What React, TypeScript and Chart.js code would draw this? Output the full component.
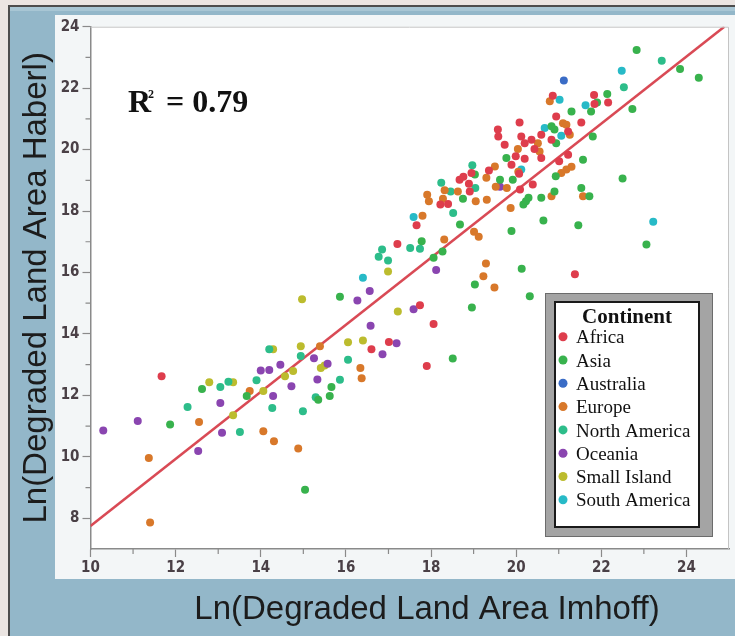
import { useEffect, useRef } from "react";
import { Chart, registerables } from "chart.js";

Chart.register(...registerables);

type Pt = [number, number];

// ---------- data ----------
const continentNames = [
  "Africa",
  "Asia",
  "Australia",
  "Europe",
  "North America",
  "Oceania",
  "Small Island",
  "South America",
];

const continentColors = [
  "#de3d4c",
  "#38b24d",
  "#3a6cc6",
  "#d8782a",
  "#2dbd8a",
  "#8a45b0",
  "#bcbc2e",
  "#27bac7",
];

const africaPoints: Pt[] = [
  [11.67, 12.62], [16.6, 13.5], [17.01, 13.74], [17.21, 16.93], [17.74, 14.93], [18.06, 14.32],
  [17.9, 12.96], [17.66, 17.54], [18.67, 19.02], [18.76, 19.12], [18.89, 18.89], [18.91, 18.64],
  [18.95, 19.24], [18.22, 18.21], [18.4, 18.23], [19.36, 19.32], [19.57, 20.65], [19.58, 20.43],
  [19.73, 20.16], [20.08, 20.88], [20.12, 20.43], [20.36, 20.32], [20.2, 20.21], [20.43, 20.02],
  [20.59, 20.48], [20.83, 20.32], [20.59, 19.73], [20.2, 19.7], [19.89, 19.51], [19.99, 19.78],
  [21.22, 19.83], [21.01, 19.62], [20.07, 19.21], [20.39, 18.86], [20.09, 18.7], [20.94, 21.08],
  [21.53, 20.88], [21.22, 20.59], [20.86, 21.75], [21.83, 21.78], [22.16, 21.53], [21.84, 21.48],
  [21.38, 15.94],
];

const asiaPoints: Pt[] = [
  [11.87, 11.05], [12.62, 12.21], [13.67, 11.98], [15.04, 8.93], [15.35, 11.86], [15.66, 12.27],
  [15.62, 11.98], [15.86, 15.21], [17.78, 17.02], [18.06, 16.48], [18.27, 16.68], [18.51, 13.2],
  [18.68, 17.56], [18.75, 18.4], [18.96, 14.86], [19.03, 15.61], [19.03, 19.19], [19.62, 19.02],
  [19.77, 19.73], [19.92, 19.02], [19.89, 17.35], [20.13, 16.12], [20.32, 15.23], [20.17, 18.21],
  [20.23, 18.32], [20.29, 18.43], [20.59, 18.43], [20.64, 17.69], [20.9, 18.64], [20.93, 19.13],
  [20.94, 20.21], [20.83, 20.76], [20.9, 20.65], [21.3, 21.24], [21.76, 21.24], [21.9, 21.53],
  [22.14, 21.81], [21.8, 20.43], [21.57, 19.67], [21.53, 18.75], [21.72, 18.48], [21.46, 17.54],
  [22.5, 19.06], [22.73, 21.32], [22.83, 23.24], [23.85, 22.62], [24.29, 22.34], [23.06, 16.91],
];

const australiaPoints: Pt[] = [[21.12, 22.25]];

const europePoints: Pt[] = [
  [11.37, 9.96], [11.4, 7.86], [12.55, 11.13], [13.74, 12.14], [14.06, 10.83], [14.31, 10.51],
  [14.88, 10.27], [15.39, 13.6], [16.34, 12.89], [16.37, 12.56], [17.8, 17.85], [17.91, 18.53],
  [17.95, 18.32], [18.28, 18.4], [18.32, 18.68], [18.63, 18.64], [19.05, 18.32], [19.31, 18.37],
  [19.3, 19.08], [19.5, 19.45], [19.52, 18.79], [19.78, 18.75], [19.87, 18.1], [18.31, 17.07],
  [19.01, 17.33], [19.12, 17.16], [19.29, 16.29], [19.23, 15.88], [19.49, 15.51], [20.04, 20.02],
  [20.51, 20.21], [20.55, 19.94], [20.05, 19.28], [20.79, 21.57], [21.1, 20.86], [21.18, 20.81],
  [21.26, 20.48], [21.3, 19.44], [21.18, 19.35], [21.06, 19.24], [20.83, 18.48], [21.57, 18.48],
];

const northAmericaPoints: Pt[] = [
  [12.28, 11.62], [13.05, 12.27], [13.24, 12.44], [13.51, 10.81], [13.9, 12.49], [14.2, 13.5],
  [14.27, 11.59], [14.94, 13.28], [14.99, 11.48], [15.29, 11.94], [15.86, 12.51], [16.05, 13.16],
  [16.85, 16.75], [16.77, 16.51], [16.99, 16.39], [17.51, 16.8], [17.74, 16.77], [18.24, 18.92],
  [18.46, 18.64], [18.52, 17.94], [18.97, 19.49], [19.04, 18.75], [22.53, 22.03], [23.42, 22.89],
];

const oceaniaPoints: Pt[] = [
  [10.3, 10.86], [11.11, 11.17], [12.53, 10.19], [13.05, 11.75], [13.09, 10.78], [14.0, 12.81],
  [14.2, 12.83], [14.29, 11.98], [14.46, 13.0], [14.72, 12.3], [15.25, 13.21], [15.33, 12.52],
  [15.57, 13.03], [16.27, 15.09], [16.56, 15.4], [16.58, 14.27], [16.86, 13.34], [17.19, 13.7],
  [17.59, 14.8], [18.12, 16.08], [19.62, 18.79],
];

const smallIslandPoints: Pt[] = [
  [12.79, 12.43], [13.35, 12.43], [13.35, 11.35], [14.06, 12.14], [14.29, 13.5], [14.57, 12.62],
  [14.76, 12.79], [14.94, 13.6], [14.97, 15.13], [15.41, 12.89], [15.5, 12.97], [16.05, 13.73],
  [16.4, 13.79], [16.99, 16.03], [17.22, 14.73],
];

const southAmericaPoints: Pt[] = [
  [16.4, 15.83], [17.59, 17.81], [20.12, 19.35], [20.67, 20.7], [21.02, 21.62], [21.06, 20.45],
  [21.63, 21.44], [22.48, 22.57], [23.22, 17.65],
];

const continentPoints: Pt[][] = [
  africaPoints,
  asiaPoints,
  australiaPoints,
  europePoints,
  northAmericaPoints,
  oceaniaPoints,
  smallIslandPoints,
  southAmericaPoints,
];

// fitted regression line end points
const fitLineX = [10, 24.89];
const fitLineY = [7.75, 24];

const xRange = [10, 25];
const yRange = [7, 24];
const majorStep = 2;
const lastLabelledX = 24;

const xTitle = "Ln(Degraded Land Area Imhoff)";
const yTitle = "Ln(Degraded Land Area Haberl)";
const legendTitle = "Continent";
const r2Base = "R";
const r2Sup = "2";
const r2Value = "= 0.79";

// ---------- styles ----------
const tickFont = "'Liberation Sans Narrow', 'DejaVu Sans Condensed', 'Liberation Sans', sans-serif";
const titleFont = "'Liberation Sans', Arial, sans-serif";
const serifFont = "'Liberation Serif', 'Times New Roman', serif";
const tickColor = "#4a4046";
const axisColor = "#8a8a8a";

const isMajor = (v: number) => Math.abs(v % majorStep) < 1e-6;

const framePlugin = {
  id: "framePlugin",
  beforeDraw(chart: any) {
    const { ctx, width, height, chartArea: a } = chart;
    ctx.save();
    ctx.fillStyle = "#ebe5e2";
    ctx.fillRect(0, 0, width, height);
    ctx.fillStyle = "#4d4d4d";
    ctx.fillRect(8, 5, width - 8, 2);
    ctx.fillRect(8, 5, 2, height - 5);
    ctx.fillStyle = "#93b7c9";
    ctx.fillRect(10, 7, width - 10, height - 7);
    ctx.fillStyle = "#a8c6d4";
    ctx.fillRect(10, 7, width - 10, 4);
    ctx.fillStyle = "#f3f6f7";
    ctx.fillRect(55, 15, width - 55, 564);
    ctx.fillStyle = "#ffffff";
    ctx.fillRect(a.left, a.top, a.right - a.left, a.bottom - a.top);
    ctx.restore();
  },
  afterDraw(chart: any) {
    const { ctx, chartArea: a } = chart;
    const xs = chart.scales.x;
    const ys = chart.scales.y;
    ctx.save();
    // plot frame (top and right)
    ctx.strokeStyle = "#c4c4c4";
    ctx.lineWidth = 1;
    ctx.beginPath();
    ctx.moveTo(a.left, a.top + 0.5);
    ctx.lineTo(a.right - 0.5, a.top + 0.5);
    ctx.lineTo(a.right - 0.5, a.bottom);
    ctx.stroke();

    // minor ticks
    ctx.strokeStyle = axisColor;
    ctx.lineWidth = 1.2;
    ctx.beginPath();
    for (let v = xRange[0] + 1; v < xRange[1]; v += 1) {
      if (isMajor(v)) continue;
      const px = xs.getPixelForValue(v);
      ctx.moveTo(px, a.bottom);
      ctx.lineTo(px, a.bottom + 5);
    }
    for (let v = yRange[0] + 1; v < yRange[1]; v += 1) {
      if (isMajor(v)) continue;
      const py = ys.getPixelForValue(v);
      ctx.moveTo(a.left - 5, py);
      ctx.lineTo(a.left, py);
    }
    ctx.stroke();

    // R^2 annotation
    ctx.fillStyle = "#111";
    ctx.textBaseline = "alphabetic";
    ctx.textAlign = "left";
    ctx.font = `bold 32px ${serifFont}`;
    ctx.fillText(r2Base, 128, 112);
    ctx.font = `bold 12px ${serifFont}`;
    ctx.fillText(r2Sup, 148, 98);
    ctx.font = `bold 32px ${serifFont}`;
    ctx.fillText(r2Value, 166, 112);

    // x axis title
    ctx.fillStyle = "#1c1c1c";
    ctx.font = `33px ${titleFont}`;
    ctx.textAlign = "center";
    ctx.fillText(xTitle, 427, 619);

    // legend
    ctx.fillStyle = "#a4a4a4";
    ctx.fillRect(545, 293, 168, 244);
    ctx.strokeStyle = "#6c6c6c";
    ctx.lineWidth = 1;
    ctx.strokeRect(545.5, 293.5, 167, 243);
    ctx.fillStyle = "#ffffff";
    ctx.fillRect(554, 301, 146, 227);
    ctx.strokeStyle = "#1a1a1a";
    ctx.lineWidth = 2;
    ctx.strokeRect(555, 302, 144, 225);

    ctx.fillStyle = "#111";
    ctx.font = `bold 21px ${serifFont}`;
    ctx.textAlign = "center";
    ctx.fillText(legendTitle, 627, 322.5);

    const items = chart.data.datasets.filter((d: any) => d.isContinent);
    ctx.font = `19px ${serifFont}`;
    ctx.textAlign = "left";
    items.forEach((d: any, i: number) => {
      const cy = 336.7 + i * 23.3;
      ctx.fillStyle = d.backgroundColor;
      ctx.beginPath();
      ctx.arc(563, cy, 4.5, 0, Math.PI * 2);
      ctx.fill();
      ctx.fillStyle = "#111";
      ctx.fillText(d.label, 576, cy + 6.6);
    });
    ctx.restore();
  },
};

export default function App() {
  const ref = useRef<HTMLCanvasElement | null>(null);

  useEffect(() => {
    if (!ref.current) return;
    const scatterSets = continentNames.map((name, i) => ({
      type: "scatter" as const,
      label: name,
      isContinent: true,
      data: continentPoints[i].map(([x, y]) => ({ x, y })),
      backgroundColor: continentColors[i],
      borderWidth: 0,
      pointRadius: 4,
      order: 0,
    }));
    const fitSet = {
      type: "line" as const,
      label: "fit",
      isContinent: false,
      data: fitLineX.map((x, i) => ({ x, y: fitLineY[i] })),
      borderColor: "#d94a55",
      borderWidth: 2.5,
      pointRadius: 0,
      fill: false,
      order: 1,
    };

    const chart = new Chart(ref.current, {
      type: "scatter",
      data: { datasets: [...scatterSets, fitSet] as any },
      options: {
        responsive: false,
        animation: false,
        layout: { padding: { left: 0, top: 26.7, right: 6, bottom: 0 } },
        plugins: {
          legend: { display: false },
          tooltip: { enabled: false },
        },
        scales: {
          x: {
            type: "linear",
            min: xRange[0],
            max: xRange[1],
            afterFit: (s: any) => {
              s.height = 87;
            },
            ticks: {
              stepSize: 1,
              autoSkip: false,
              maxRotation: 0,
              padding: 2,
              color: tickColor,
              font: { family: tickFont, size: 15, weight: "bold" },
              callback: (v: any) => {
                const n = Number(v);
                return isMajor(n) && n <= lastLabelledX ? String(Math.round(n)) : "";
              },
            },
            grid: {
              drawOnChartArea: false,
              drawTicks: true,
              tickLength: 8,
              tickWidth: 1.2,
              tickColor: (c: any) =>
                isMajor(c.tick.value) && c.tick.value <= lastLabelledX ? axisColor : "rgba(0,0,0,0)",
            },
            border: { display: true, color: axisColor, width: 1.5 },
          },
          y: {
            type: "linear",
            min: yRange[0],
            max: yRange[1],
            afterFit: (s: any) => {
              s.width = 90.5;
            },
            ticks: {
              stepSize: 1,
              autoSkip: false,
              padding: 3,
              color: tickColor,
              font: { family: tickFont, size: 15, weight: "bold" },
              callback: (v: any) => {
                const n = Number(v);
                return isMajor(n) && n > yRange[0] ? String(Math.round(n)) : "";
              },
            },
            grid: {
              drawOnChartArea: false,
              drawTicks: true,
              tickLength: 8,
              tickWidth: 1.2,
              tickColor: (c: any) =>
                isMajor(c.tick.value) && c.tick.value > yRange[0] ? axisColor : "rgba(0,0,0,0)",
            },
            border: { display: true, color: axisColor, width: 1.5 },
            title: {
              display: true,
              text: yTitle,
              color: "#1c1c1c",
              font: { family: titleFont, size: 33, weight: "normal" },
              padding: { top: 17, bottom: 0 },
            },
          },
        },
      } as any,
      plugins: [framePlugin],
    });
    return () => chart.destroy();
  }, []);

  return (
    <div style={{ position: "fixed", left: 0, top: 0, width: 735, height: 636 }}>
      <canvas ref={ref} width={735} height={636} style={{ display: "block", width: 735, height: 636 }} />
    </div>
  );
}
